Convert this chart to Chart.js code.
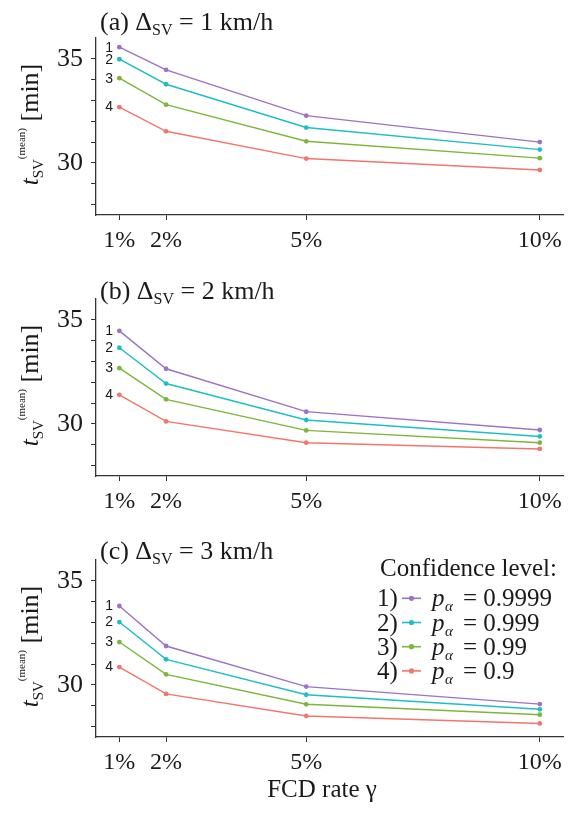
<!DOCTYPE html>
<html>
<head>
<meta charset="utf-8">
<script src="https://cdn.jsdelivr.net/npm/chart.js@4.4.0/dist/chart.umd.min.js"></script>
<style>
  body { margin: 0; background: #fff; width: 568px; height: 814px; position: relative; overflow: hidden; }
  canvas { position: absolute; left: 0; }
</style>
</head>
<body>
<canvas id="graficoA" width="568" height="261" style="top:0px"></canvas>
<canvas id="graficoB" width="568" height="261" style="top:261px"></canvas>
<canvas id="graficoC" width="568" height="292" style="top:522px"></canvas>
<script>
// ========== DATOS ==========
const tasasFCD = [1, 2, 5, 10];
const ticksY = [28, 29, 30, 31, 32, 33, 34, 35];
const numerosSerie = ['1', '2', '3', '4'];
const nivelesConfianza = ['0.9999', '0.999', '0.99', '0.9'];
const coloresSerie = ['#9D73C5', '#1DBFC3', '#7DB63A', '#F4756B'];

// Δ_SV = 1 km/h
const tiempoA1 = [35.56, 34.47, 32.27, 31.00];
const tiempoA2 = [34.98, 33.78, 31.70, 30.64];
const tiempoA3 = [34.07, 32.80, 31.04, 30.23];
const tiempoA4 = [32.68, 31.52, 30.21, 29.66];

// Δ_SV = 2 km/h
const tiempoB1 = [34.47, 32.65, 30.59, 29.71];
const tiempoB2 = [33.66, 31.94, 30.19, 29.40];
const tiempoB3 = [32.68, 31.18, 29.69, 29.10];
const tiempoB4 = [31.40, 30.12, 29.10, 28.80];

// Δ_SV = 3 km/h
const tiempoC1 = [33.79, 31.87, 29.92, 29.08];
const tiempoC2 = [33.02, 31.23, 29.53, 28.83];
const tiempoC3 = [32.06, 30.51, 29.07, 28.57];
const tiempoC4 = [30.86, 29.57, 28.51, 28.15];

const SERIF = '"Liberation Serif", "DejaVu Serif", serif';
const SANS = '"Liberation Sans", "DejaVu Sans", sans-serif';
const TINTA = '#1a1a1a';

// ========== TEXTOS DEL PANEL ==========
function textosPanel(letra, delta, baseTitulo, conLeyenda) {
  return {
    id: 'textosPanel' + letra,
    afterDraw(chart) {
      const ctx = chart.ctx;
      const area = chart.chartArea;
      ctx.save();
      ctx.fillStyle = TINTA;
      ctx.textBaseline = 'alphabetic';
      ctx.textAlign = 'left';

      // titulo: (a) Δ_SV = 1 km/h
      let x = 100;
      ctx.font = '26px ' + SERIF;
      const parte1 = '(' + letra + ') Δ';
      ctx.fillText(parte1, x, baseTitulo);
      x += ctx.measureText(parte1).width;
      ctx.font = '16px ' + SERIF;
      ctx.fillText('SV', x, baseTitulo + 5);
      x += ctx.measureText('SV').width;
      ctx.font = '26px ' + SERIF;
      ctx.fillText(' = ' + delta + ' km/h', x, baseTitulo);

      // titulo eje y rotado: t_SV^(mean) [min]
      const trozos = [
        { t: 't', f: 'italic 25px ' + SERIF, dy: 0 },
        { t: 'SV', f: '15px ' + SERIF, dy: 5 },
        { t: '(mean)', f: '11px ' + SERIF, dy: -13 },
        { t: ' [min]', f: '26px ' + SERIF, dy: 0 }
      ];
      let total = 0;
      trozos.forEach(p => { ctx.font = p.f; p.w = ctx.measureText(p.t).width; total += p.w; });
      ctx.save();
      ctx.translate(38, (area.top + area.bottom) / 2 - 2);
      ctx.rotate(-Math.PI / 2);
      let u = -total / 2;
      trozos.forEach(p => { ctx.font = p.f; ctx.fillText(p.t, u, p.dy); u += p.w; });
      ctx.restore();

      // numeros junto al primer punto
      ctx.font = '14px ' + SANS;
      ctx.textAlign = 'right';
      ctx.textBaseline = 'middle';
      chart.data.datasets.forEach((ds, i) => {
        const p = chart.getDatasetMeta(i).data[0];
        ctx.fillText(numerosSerie[i], 113, p.y + 0.5);
      });

      if (conLeyenda) {
        ctx.textAlign = 'left';
        ctx.textBaseline = 'alphabetic';
        ctx.font = '25px ' + SERIF;
        ctx.fillText('Confidence level:', 380, 54);
        chart.data.datasets.forEach((ds, i) => {
          const ym = 76.3 + i * 24.2;
          ctx.fillStyle = TINTA;
          ctx.font = '25px ' + SERIF;
          ctx.fillText(numerosSerie[i] + ')', 377, ym + 8);
          ctx.strokeStyle = ds.borderColor;
          ctx.lineWidth = 1.6;
          ctx.beginPath();
          ctx.moveTo(402, ym);
          ctx.lineTo(421, ym);
          ctx.stroke();
          ctx.fillStyle = ds.borderColor;
          ctx.beginPath();
          ctx.arc(411.5, ym, 2.6, 0, Math.PI * 2);
          ctx.fill();
          ctx.fillStyle = TINTA;
          ctx.font = 'italic 25px ' + SERIF;
          ctx.fillText('p', 432, ym + 8);
          ctx.font = 'italic 15px ' + SERIF;
          ctx.fillText('α', 445, ym + 13);
          ctx.font = '25px ' + SERIF;
          ctx.fillText('= ' + nivelesConfianza[i], 463, ym + 8);
        });

        // titulo eje x
        ctx.textAlign = 'center';
        ctx.font = '25px ' + SERIF;
        ctx.fillText('FCD rate γ', 322, 275);
      }
      ctx.restore();
    }
  };
}

// ========== GRAFICO ==========
function dibujarPanel(idCanvas, series, letra, delta, baseTitulo, conLeyenda) {
  const canvas = document.getElementById(idCanvas);
  const altoEjeX = 46;
  const abajo = canvas.height - 38 - 177 - altoEjeX;

  return new Chart(canvas, {
    type: 'line',
    data: {
      datasets: series.map((valores, i) => ({
        label: nivelesConfianza[i],
        data: valores.map((v, k) => ({ x: tasasFCD[k], y: v })),
        borderColor: coloresSerie[i],
        backgroundColor: coloresSerie[i],
        pointBackgroundColor: coloresSerie[i],
        borderWidth: 1.4,
        pointRadius: 2.4,
        pointBorderWidth: 0,
        tension: 0
      }))
    },
    options: {
      responsive: false,
      animation: false,
      layout: { padding: { top: 38, right: 3, left: 0, bottom: abajo } },
      plugins: { legend: { display: false }, tooltip: { enabled: false }, title: { display: false } },
      scales: {
        x: {
          type: 'linear',
          min: 0.5,
          max: 10.5,
          afterBuildTicks: s => { s.ticks = tasasFCD.map(v => ({ value: v })); },
          afterFit: s => { s.height = altoEjeX; },
          grid: { drawOnChartArea: false, drawTicks: true, tickLength: 5, tickColor: '#333' },
          border: { display: true, color: '#333', width: 1.3 },
          ticks: {
            autoSkip: false,
            padding: 6,
            maxRotation: 0,
            color: TINTA,
            font: { family: SERIF, size: 24 },
            callback: v => v + '%'
          }
        },
        y: {
          min: 27.5,
          max: 36,
          afterBuildTicks: s => { s.ticks = ticksY.map(v => ({ value: v })); },
          afterFit: s => { s.width = 96; },
          grid: { drawOnChartArea: false, drawTicks: true, tickLength: 5, tickColor: '#333' },
          border: { display: true, color: '#333', width: 1.3 },
          ticks: {
            autoSkip: false,
            padding: 8,
            color: TINTA,
            font: { family: SERIF, size: 26 },
            callback: v => (v % 5 === 0 ? String(v) : '')
          }
        }
      }
    },
    plugins: [textosPanel(letra, delta, baseTitulo, conLeyenda)]
  });
}

dibujarPanel('graficoA', [tiempoA1, tiempoA2, tiempoA3, tiempoA4], 'a', 1, 30, false);
dibujarPanel('graficoB', [tiempoB1, tiempoB2, tiempoB3, tiempoB4], 'b', 2, 38, false);
dibujarPanel('graficoC', [tiempoC1, tiempoC2, tiempoC3, tiempoC4], 'c', 3, 37, true);
</script>
</body>
</html>
